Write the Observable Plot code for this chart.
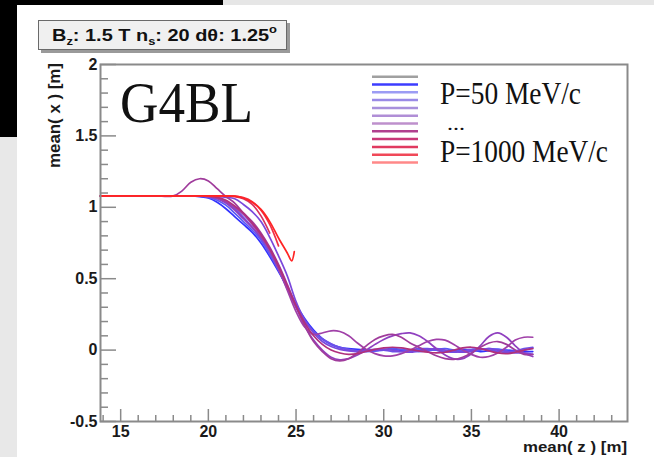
<!DOCTYPE html>
<html><head><meta charset="utf-8">
<script src="https://cdn.jsdelivr.net/npm/d3@7"></script>
<script src="https://cdn.jsdelivr.net/npm/@observablehq/plot@0.6"></script>
<style>
html,body{margin:0;padding:0;background:#fff;}
#wrap{position:relative;width:654px;height:457px;overflow:hidden;background:#fff;}
#bg,#chart,#over{position:absolute;left:0;top:0;}
</style></head><body>
<div id="wrap"><svg id="bg" width="654" height="457"></svg><div id="chart"></div><svg id="over" width="654" height="457"></svg></div>
<script>
// ---- data ----
const zGrid = [13.85,15,16,17,18,18.5,19,19.5,20,20.5,21,21.5,22,22.5,23,23.5,24,24.5,24.75,24.9,
  25,25.5,26,26.5,27,27.5,28,28.5,29,29.5,30,30.5,31,31.5,32,32.5,33,33.5,34,34.5,35,35.5,36,36.5,37,37.5,38,38.5];
const momenta = ["P=50","P=100","P=200","P=300","P=400","P=500","P=600","P=700","P=800","P=900","P=1000"];
const s50  = [1.08,1.08,1.08,1.08,1.08,1.08,1.08,1.075, 1.065,1.035,0.99,0.935,0.88,0.825,0.75,0.655,0.55,0.44,null,null,
  0.32,0.22,0.14,0.08,0.04,0.02,0.01,0.005, 0.0,-0.005,0.0,0.005,0.0,-0.005,0.0,0.005,0.0,-0.01,-0.005,0.005,0.0,-0.01,-0.005,0.005,0.0,-0.005,-0.01,-0.01];
const s100 = [1.08,1.08,1.08,1.08,1.08,1.08,1.08,1.078, 1.07,1.05,1.015,0.96,0.9,0.84,0.77,0.67,0.56,0.43,null,null,
  0.31,0.21,0.13,0.075,0.04,0.015,0.0,-0.01, -0.01,-0.005,0.005,0.01,0.005,-0.005,-0.01,-0.005,0.005,0.01,0.0,-0.01,-0.01,0.0,0.01,0.005,-0.005,-0.01,0.0,0.015];
const s200 = [1.08,1.08,1.08,1.08,1.08,1.08,1.08,1.08, 1.075,1.065,1.035,0.99,0.93,0.86,0.78,0.68,0.56,0.43,null,null,
  0.3,0.2,0.13,0.08,0.045,0.02,0.005,-0.005, 0.0,0.005,0.0,-0.01,-0.01,0.0,0.01,0.01,0.0,-0.01,-0.015,-0.005,0.005,0.01,0.0,-0.01,-0.015,-0.005,0.01,0.02];
const s300 = [1.08,1.08,1.08,1.08,1.08,1.08,1.08,1.08, 1.078,1.075,1.07,1.06,1.02,0.97,0.9,0.79,0.66,0.52,null,null,
  0.34,0.21,0.12,0.06,0.025,0.005,-0.005,-0.01, -0.005,0.0,0.005,0.0,-0.01,-0.015,-0.005,0.005,0.01,0.0,-0.01,-0.015,-0.005,0.005,0.01,0.0,-0.01,-0.02,-0.02,-0.03];
const s400 = [1.08,1.08,1.08,1.08,1.08,1.08,1.08,1.08, 1.075,1.06,1.03,0.98,0.92,0.86,0.79,0.7,0.58,0.44,null,null,
  0.3,0.17,0.07,0.0,-0.05,-0.068,-0.06,-0.035, 0.0,0.04,0.075,0.1,0.115,0.12,0.1,0.06,0.01,-0.035,-0.062,-0.06,-0.025,0.03,0.095,0.12,0.09,0.03,-0.02,-0.045];
const s500 = [1.08,1.08,1.08,1.08,1.08,1.08,1.08,1.08, 1.075,1.065,1.04,1.0,0.95,0.88,0.8,0.7,0.57,0.42,null,null,
  0.27,0.16,0.11,0.12,0.135,0.13,0.1,0.05, 0.005,-0.025,-0.04,-0.04,-0.025,0.0,0.03,0.06,0.075,0.07,0.04,0.0,-0.03,-0.05,-0.045,-0.02,0.02,0.07,0.09,0.09];
const s600 = [1.08,1.08,1.08,1.08,1.08,1.115,1.175,1.2, 1.185,1.13,1.075,1.03,0.96,0.9,0.82,0.72,0.6,0.46,null,null,
  0.31,0.17,0.06,-0.01,-0.06,-0.075,-0.06,-0.02, 0.03,0.075,0.1,0.11,0.09,0.05,0.02,-0.01,-0.04,-0.06,-0.065,-0.05,-0.02,0.02,0.05,0.06,0.04,0.0,-0.03,-0.03];
const s700 = [1.08,1.08,1.08,1.08,1.08,1.08,1.08,1.08, 1.078,1.07,1.05,1.01,0.96,0.89,0.81,0.71,0.59,0.45,null,null,
  0.31,0.19,0.1,0.04,0.0,-0.02,-0.03,-0.025, -0.01,0.005,0.015,0.02,0.015,0.005,-0.005,-0.015,-0.02,-0.015,0.0,0.015,0.02,0.01,-0.005,-0.02,-0.025,-0.015,0.0,0.01];
const s800 = [1.08,1.08,1.08,1.08,1.08,1.08,1.08,1.08,1.08,1.08,1.08, 1.075,1.06,1.02,0.94,0.82];
const s900 = [1.08,1.08,1.08,1.08,1.08,1.08,1.08,1.08,1.08,1.08,1.08, 1.078,1.068,1.04,0.98,0.88,0.73];
const s1000= [1.08,1.08,1.08,1.08,1.08,1.08,1.08,1.08,1.08,1.08,1.08, 1.078,1.065,1.035,0.985,0.9,0.785,0.68,0.625,0.69];
const xMajorTicks = [15,20,25,30,35,40];
const xMinorTicks = [14,16,17,18,19,21,22,23,24,26,27,28,29,31,32,33,34,36,37,38,39,41,42,43];
const yMajorTicks = [-0.5,0,0.5,1,1.5,2];
const yMinorTicks = [-0.4,-0.3,-0.2,-0.1,0.1,0.2,0.3,0.4,0.6,0.7,0.8,0.9,1.1,1.2,1.3,1.4,1.6,1.7,1.8,1.9];
const lineColors = ["#3232ff","#5a5af5","#6e50e8","#7a48dc","#9040c0","#a040a8","#a03c9c","#b0307c","#d83060","#f03048","#ff2424"];
const legendColors = ["#a0a0a0","#3c3cff","#9c9cf4","#9a8ae6","#a890dc","#b08ed6","#be90cc","#b0408e","#c83878","#e03a60","#f04858","#ff8888"];
const titleText = {b:"B", bsub:"z", t1:": 1.5 T n", nsub:"s", t2:": 20 d\u03B8: 1.25", sup:"o"};

// ---- build table ----
const allSeries = [s50,s100,s200,s300,s400,s500,s600,s700,s800,s900,s1000];
const rows = [];
allSeries.forEach((vals, i) => vals.forEach((v, j) => {
  if (v != null) rows.push({z: zGrid[j], v, p: momenta[i]});
}));

const font = "'Liberation Sans', Arial, Helvetica, sans-serif";
const chart = Plot.plot({
  width: 654, height: 457,
  marginLeft: 100, marginRight: 27, marginTop: 64, marginBottom: 36,
  x: {domain: [13.85, 43.9], label: null},
  y: {domain: [-0.5, 2], label: null},
  color: {domain: momenta, range: lineColors},
  style: {background: "transparent", fontFamily: font},
  marks: [
    Plot.line(rows, {x: "z", y: "v", z: "p", stroke: "p", curve: "catmull-rom", strokeWidth: 1.7}),
    Plot.frame({stroke: "#8a8a8a", strokeWidth: 2}),
    Plot.axisX({ticks: xMinorTicks, tickSize: -6, text: null, stroke: "#8a8a8a", strokeWidth: 1.5}),
    Plot.axisX({ticks: xMajorTicks, tickSize: -12, text: null, stroke: "#8a8a8a", strokeWidth: 1.5}),
    Plot.axisX({ticks: xMajorTicks, tickSize: 0, tickPadding: 4, tickFormat: d => String(d), fontSize: 16, fontWeight: "bold", fill: "#1a1a1a"}),
    Plot.axisY({ticks: yMinorTicks, tickSize: -8, text: null, stroke: "#8a8a8a", strokeWidth: 1.5}),
    Plot.axisY({ticks: yMajorTicks, tickSize: -16, text: null, stroke: "#8a8a8a", strokeWidth: 1.5}),
    Plot.axisY({ticks: yMajorTicks, tickSize: 0, tickPadding: 3, tickFormat: d => String(d), fontSize: 16, fontWeight: "bold", fill: "#1a1a1a"})
  ]
});
document.getElementById("chart").appendChild(chart);

// ---- screenshot background pieces ----
const NS = "http://www.w3.org/2000/svg";
function el(parent, tag, attrs, text) {
  const e = document.createElementNS(NS, tag);
  for (const k in attrs) e.setAttribute(k, attrs[k]);
  if (text != null) e.textContent = text;
  parent.appendChild(e);
  return e;
}
const bg = document.getElementById("bg");
el(bg, "rect", {x: 223, y: 0, width: 431, height: 5, fill: "#e6e6e6"});
el(bg, "rect", {x: 0, y: 0, width: 223, height: 5, fill: "#000"});
el(bg, "rect", {x: 0, y: 0, width: 17, height: 137, fill: "#000"});
el(bg, "rect", {x: 0, y: 137, width: 17, height: 320, fill: "#e8e8e8"});

// ---- overlay texts ----
const ov = document.getElementById("over");
// title box
el(ov, "rect", {x: 41, y: 23, width: 249, height: 30, fill: "#9a9a9a"});
el(ov, "rect", {x: 38.5, y: 20.5, width: 248, height: 29, fill: "#f0f0f0", stroke: "#6a6a6a", "stroke-width": 1});
const tt = el(ov, "text", {x: 52, y: 41, "font-family": font, "font-weight": "bold", "font-size": 17, fill: "#111",
  textLength: 225, lengthAdjust: "spacingAndGlyphs"});
el(tt, "tspan", {}, titleText.b);
el(tt, "tspan", {"font-size": 11, dy: 4}, titleText.bsub);
el(tt, "tspan", {dy: -4}, titleText.t1);
el(tt, "tspan", {"font-size": 11, dy: 4}, titleText.nsub);
el(tt, "tspan", {dy: -4}, titleText.t2);
el(tt, "tspan", {"font-size": 11, dy: -8}, titleText.sup);

// axis titles
el(ov, "text", {transform: "translate(60,63) rotate(-90)", "text-anchor": "end", "font-family": font, "font-weight": "bold",
  "font-size": 16, fill: "#1a1a1a", textLength: 105, lengthAdjust: "spacingAndGlyphs"}, "mean( x ) [m]");
el(ov, "text", {x: 627, y: 452, "text-anchor": "end", "font-family": font, "font-weight": "bold",
  "font-size": 14, fill: "#1a1a1a", textLength: 104, lengthAdjust: "spacingAndGlyphs"}, "mean( z ) [m]");

// G4BL
const serif = "'Liberation Serif', 'Times New Roman', serif";
el(ov, "text", {x: 120, y: 122, "font-family": serif, "font-size": 56, fill: "#111", textLength: 133, lengthAdjust: "spacingAndGlyphs"}, "G4BL");

// legend
legendColors.forEach((c, i) => {
  el(ov, "line", {x1: 372, x2: 418, y1: 76.7 + i * 7.8, y2: 76.7 + i * 7.8, stroke: c, "stroke-width": 2.5});
});
el(ov, "text", {x: 440, y: 103.5, "font-family": serif, "font-size": 32, fill: "#111", textLength: 141, lengthAdjust: "spacingAndGlyphs"}, momenta[0] + " MeV/c");
el(ov, "text", {x: 447, y: 130, "font-family": serif, "font-size": 18, fill: "#111", textLength: 18, lengthAdjust: "spacingAndGlyphs"}, "...");
el(ov, "text", {x: 440, y: 162, "font-family": serif, "font-size": 32, fill: "#111", textLength: 168, lengthAdjust: "spacingAndGlyphs"}, momenta[10] + " MeV/c");
</script>
</body></html>
